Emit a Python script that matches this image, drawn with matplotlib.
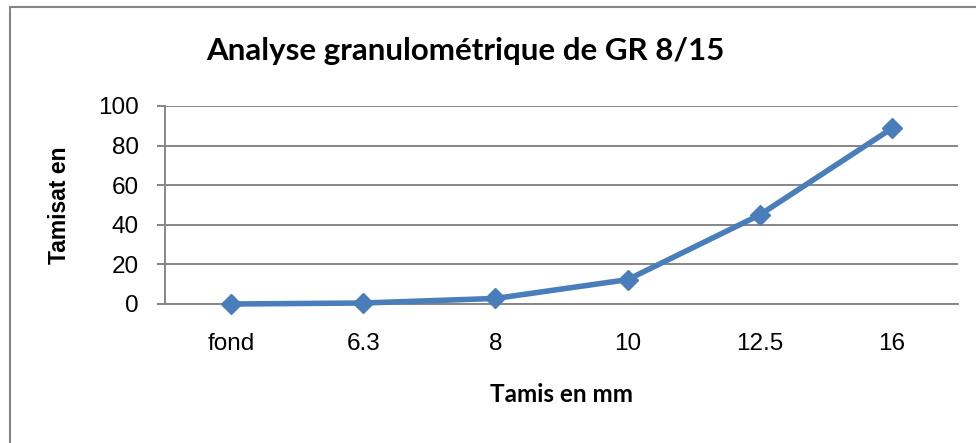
import matplotlib
matplotlib.use("Agg")
import matplotlib.pyplot as plt
from matplotlib.patches import Rectangle

# sieve sizes (categories) and passing percentage
tamis = ["fond", "6.3", "8", "10", "12.5", "16"]
tamisat = [0, 0.5, 2.8, 12.3, 45.0, 88.7]
y_ticks = [0, 20, 40, 60, 80, 100]

BLUE = "#4A7EBB"
GREY = "#868686"
W, H = 976, 443

fig = plt.figure(figsize=(W / 100, H / 100), dpi=100)
ax = fig.add_axes([165 / W, 1 - 304 / H, 793 / W, 198 / H])

x = list(range(len(tamis)))
ax.plot(x, tamisat, color=BLUE, lw=4, marker="D", ms=10, mfc=BLUE, mec=BLUE,
        solid_joinstyle="round", zorder=3, clip_on=False)

ax.set_xlim(-0.5, len(tamis) - 0.5)
ax.set_ylim(0, 100)
ax.set_yticks(y_ticks)
ax.set_xticks(x)
ax.set_xticklabels(tamis)
ax.yaxis.grid(True, color=GREY, lw=1.4)
ax.set_axisbelow(True)

for side in ("top", "right"):
    ax.spines[side].set_visible(False)
for side in ("left", "bottom"):
    ax.spines[side].set_color(GREY)
    ax.spines[side].set_linewidth(1.4)

ax.tick_params(axis="y", length=6, width=1.4, color=GREY, pad=13,
               labelsize=17.5, labelfontfamily="Liberation Sans")
ax.tick_params(axis="x", length=0, pad=21, labelsize=17.5, labelfontfamily="Liberation Sans")

ax.set_ylabel("Tamisat en", fontsize=16.5, fontweight="bold", family="Liberation Sans")
ax.yaxis.set_label_coords((71 - 165) / 793, 0.5)
ax.set_xlabel("Tamis en mm", fontsize=17.5, fontweight="bold", family="Lato")
ax.xaxis.set_label_coords(0.5, -(395 - 304) / 198)
ax.xaxis.label.set_va("center")

fig.text(465 / W, 1 - 51 / H, "Analyse granulométrique de GR 8/15",
         ha="center", va="center", fontsize=22.5, fontweight="bold", family="Lato")

# chart frame (left and top edges visible)
fig.patches.append(Rectangle((10 / W, -0.2), 1.1, 1.2 - 7 / H, transform=fig.transFigure,
                             fill=False, edgecolor=GREY, lw=1.5, clip_on=False))

fig.savefig("out.png", dpi=100)
